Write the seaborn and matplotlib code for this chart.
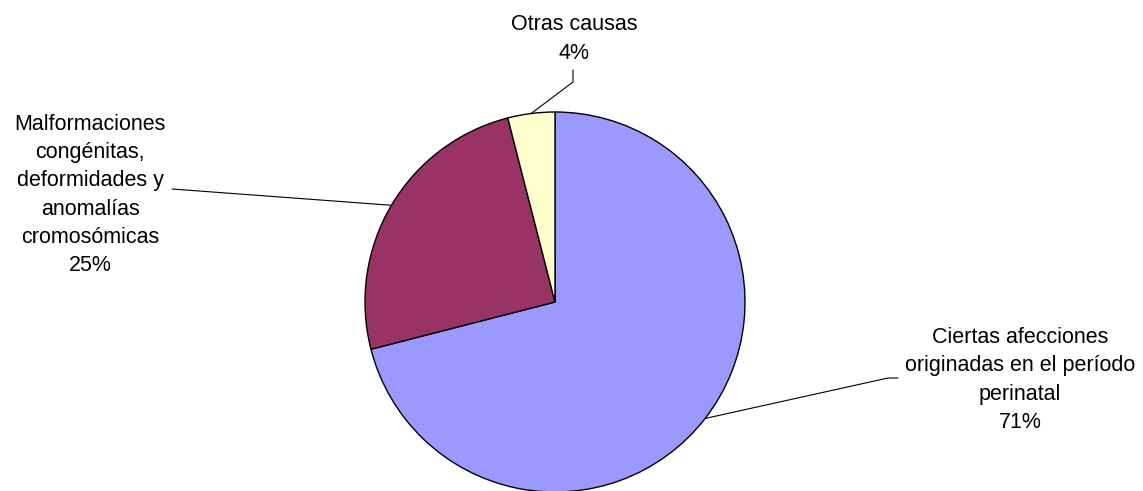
import numpy as np
import matplotlib.pyplot as plt
import seaborn as sns

# data
causes = [
    "Ciertas afecciones\noriginadas en el período\nperinatal",
    "Malformaciones\ncongénitas,\ndeformidades y\nanomalías\ncromosómicas",
    "Otras causas",
]
shares = [71, 25, 4]
colors = ["#9999FF", "#993366", "#FFFFCC"]

sns.set_style("white")
plt.rcParams["font.family"] = ["Liberation Sans", "DejaVu Sans"]

W, H = 1143, 491
cx, cy, R = 555, 302, 190  # pie centre / radius in pixels


def px(x, y):
    # pixel position (from top-left) -> data units (pie radius = 1)
    return (x - cx) / R, (cy - y) / R


fig = plt.figure(figsize=(W / 100, H / 100), dpi=100)
ax = fig.add_axes([0, 0, 1, 1])

wedges, _ = ax.pie(shares, colors=colors, startangle=90, counterclock=False,
                   radius=1.0, wedgeprops=dict(edgecolor="black", linewidth=1.0))

ax.set_xlim(px(0, 0)[0], px(W, 0)[0])
ax.set_ylim(px(0, H)[1], px(0, 0)[1])
ax.set_aspect("equal")
ax.axis("off")

# label placement (pixels): text centre, leader elbow, leader end
label_pos = [(1020, 380), (90, 195), (574, 39)]
leaders = [[(888, 378), (898, 378)], [(172, 189)], [(573, 82), (573, 70)]]

for w, name, val, (tx, ty), pts in zip(wedges, causes, shares, label_pos, leaders):
    mid = np.deg2rad((w.theta1 + w.theta2) / 2)
    xs = [np.cos(mid)] + [px(*p)[0] for p in pts]
    ys = [np.sin(mid)] + [px(*p)[1] for p in pts]
    ax.plot(xs, ys, color="black", lw=0.8, clip_on=False)
    ax.text(*px(tx, ty), f"{name}\n{val}%", ha="center", va="center",
            fontsize=15.5, linespacing=1.44, color="black")

fig.savefig("out.png", dpi=100)
